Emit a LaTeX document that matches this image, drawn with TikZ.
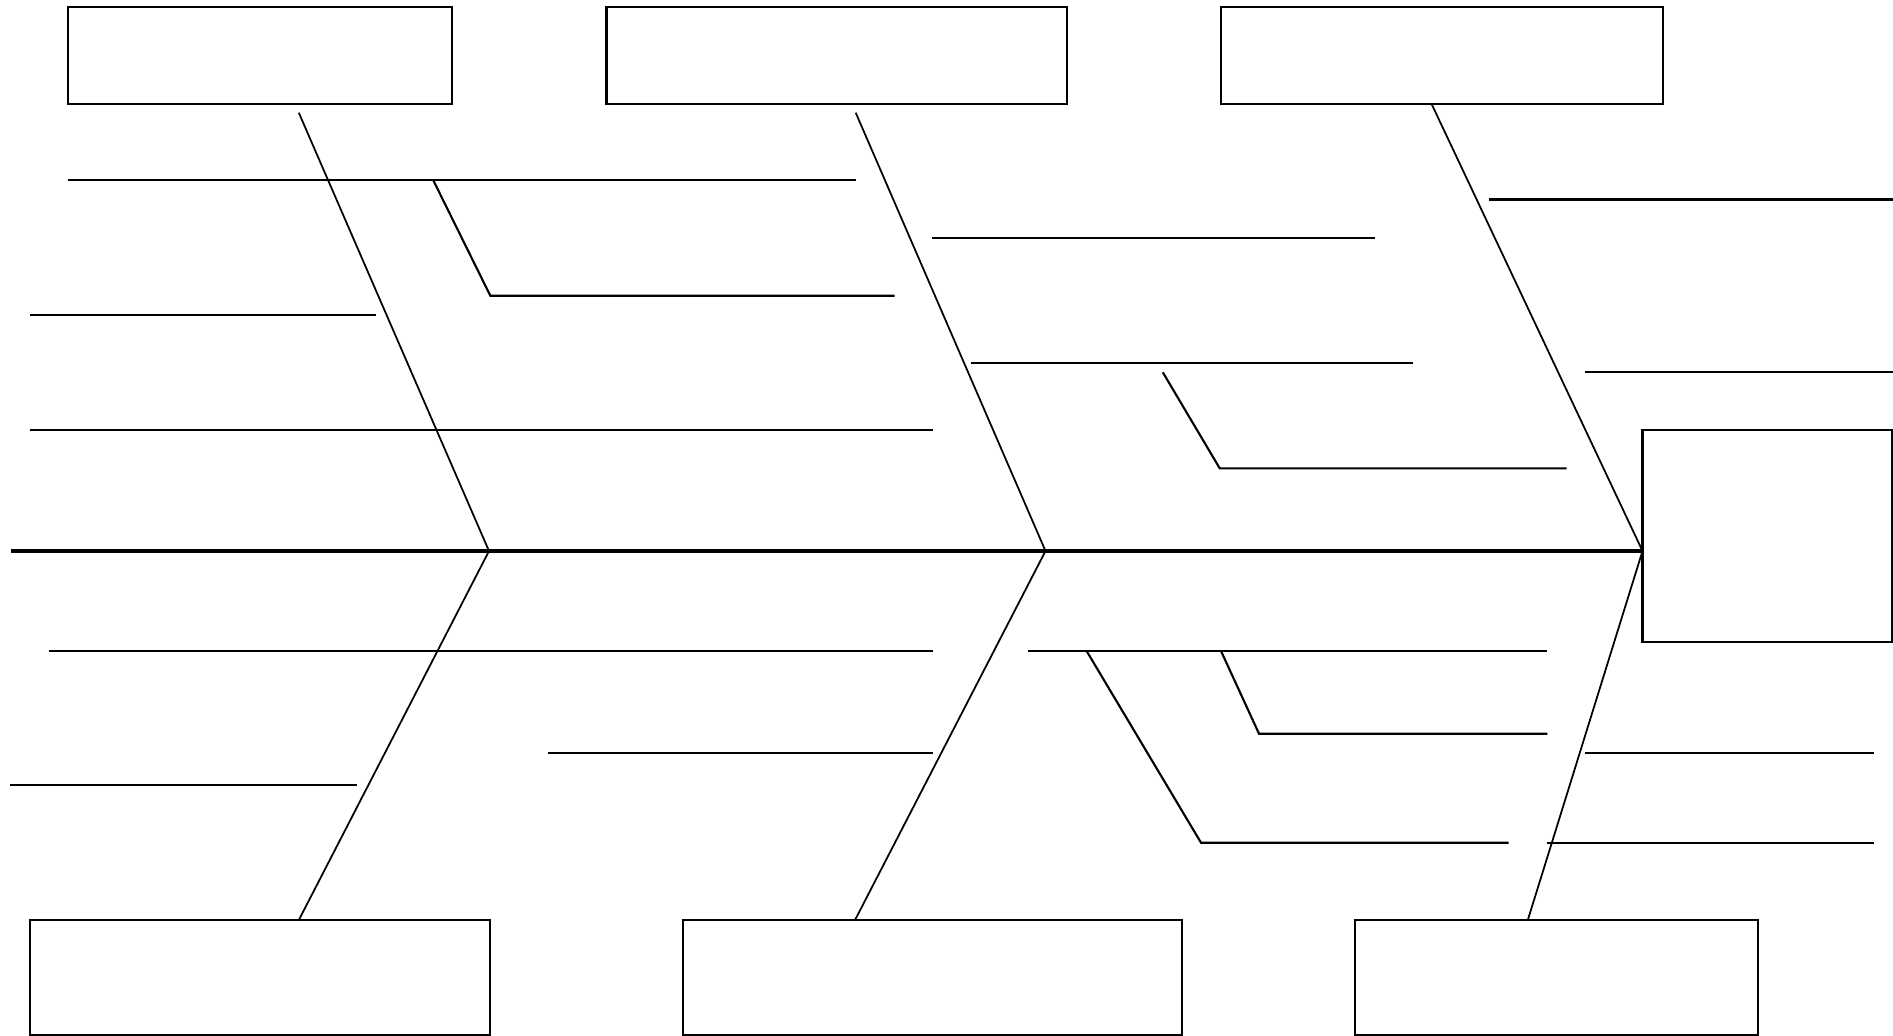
\documentclass[tikz,border=0pt]{standalone}
\usepackage{xcolor}
\usepackage{tikz}
\usetikzlibrary{positioning, calc}
\definecolor{FB_INK}{HTML}{000000}
\tikzset{
  %% -- category and effect boxes --
  FB/box/.style={
    draw=FB_INK, line width=0.6pt, fill=white,
    inner sep=0pt, minimum height=0.97cm
  },
  %% -- main spine --
  FB/spine/.style={draw=FB_INK, line width=0.9pt},
  %% -- category bones --
  FB/bone/.style={draw=FB_INK, line width=0.5pt},
  %% -- cause lines --
  FB/rib/.style={draw=FB_INK, line width=0.6pt},
}

\begin{document}
\begin{tikzpicture}[x=0.01cm, y=-0.01cm]
\useasboundingbox (0,0) rectangle (1893,1036);

%% ━━━━━━━━━━━━━━━━━━━━━━━━━━━━━━━━━━━━━━━━━━━━━━━━━━━━━━━━━━━━━
%%  BOXES
%% ━━━━━━━━━━━━━━━━━━━━━━━━━━━━━━━━━━━━━━━━━━━━━━━━━━━━━━━━━━━━━
\node[FB/box, minimum width=3.835cm] (catT1) at (260.3,55.5) {};
\node[FB/box, minimum width=4.60cm]  (catT2) at (836.6,55.5) {};
\node[FB/box, minimum width=4.42cm]  (catT3) at (1441.7,55.5) {};

\node[FB/box, minimum width=4.60cm, minimum height=1.153cm] (catB1) at (260.2,977.4) {};
\node[FB/box, minimum width=4.99cm, minimum height=1.153cm] (catB2) at (932.6,977.4) {};
\node[FB/box, minimum width=4.03cm, minimum height=1.153cm] (catB3) at (1556.4,977.4) {};

%% Effect (head)
\node[FB/box, minimum width=2.495cm, minimum height=2.117cm] (effect) at (1767.3,535.9) {};

%% ━━━━━━━━━━━━━━━━━━━━━━━━━━━━━━━━━━━━━━━━━━━━━━━━━━━━━━━━━━━━━
%%  SPINE AND BONES
%% ━━━━━━━━━━━━━━━━━━━━━━━━━━━━━━━━━━━━━━━━━━━━━━━━━━━━━━━━━━━━━
\coordinate (tail) at (10.9,551);
\coordinate (j1) at (489,551);
\coordinate (j2) at (1045.5,551);
\coordinate (j3) at (1642.5,551);

\coordinate (t1top) at (298.8,112.7);
\coordinate (t2top) at (855.7,112.7);
\coordinate (t3top) at (1431.6,104);
\coordinate (b1foot) at (299,919.7);
\coordinate (b2foot) at (855.2,919.7);
\coordinate (b3foot) at (1527.9,919.7);

\draw[FB/spine] (tail) -- (j3);

\draw[FB/bone] (t1top) -- (j1) -- (b1foot);
\draw[FB/bone] (t2top) -- (j2) -- (b2foot);
\draw[FB/bone] (t3top) -- (j3) -- (b3foot);

%% ━━━━━━━━━━━━━━━━━━━━━━━━━━━━━━━━━━━━━━━━━━━━━━━━━━━━━━━━━━━━━
%%  CAUSE LINES  (y / x start / x end)
%% ━━━━━━━━━━━━━━━━━━━━━━━━━━━━━━━━━━━━━━━━━━━━━━━━━━━━━━━━━━━━━
\foreach \ry/\rxa/\rxb in {
    180.3/68/856, 315/29.7/375.8, 430/29.7/933.3,      %% upper left
    237.7/932.3/1374.7, 363/970.5/1413,                %% upper middle
    199.5/1489/1893, 372.3/1585/1893,                  %% upper right
    651/48.5/933, 753/547.8/933, 785/10.2/356.5,       %% lower left
    651/1028/1547.3,                                   %% lower middle
    753/1585/1873.6, 842.7/1546.7/1873.6}              %% lower right
  \draw[FB/rib] (\rxa,\ry) -- (\rxb,\ry);

%% Sub-causes
\draw[FB/rib] (433.3,180.3) -- (490.3,295.7) -- (894.5,295.7);
\draw[FB/rib] (1162.8,372.3) -- (1219.7,468.3) -- (1566.5,468.3);
\draw[FB/rib] (1221,651) -- (1259,733.7) -- (1547.3,733.7);
\draw[FB/rib] (1086.6,651) -- (1201,842.7) -- (1508.5,842.7);

\end{tikzpicture}
\end{document}
